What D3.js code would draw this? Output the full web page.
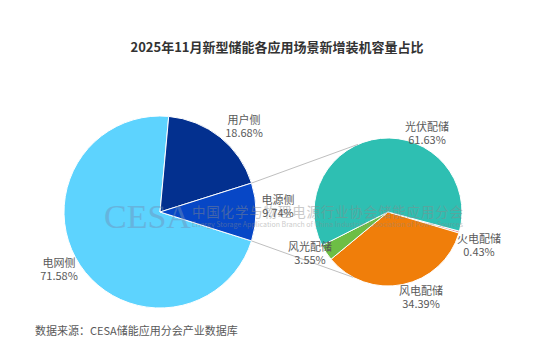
<!DOCTYPE html>
<html>
<head>
<meta charset="utf-8">
<script src="https://cdn.jsdelivr.net/npm/d3@7"></script>
<style>
  body { margin: 0; background: #fff; }
  text { font-family: "Noto Sans CJK SC", "Noto Sans", sans-serif; }
</style>
</head>
<body>
<div id="graphic"></div>
<script>
// main pie
var mainNames = ["电网侧", "用户侧", "电源侧"];
var mainValues = [71.58, 18.68, 9.74];
var mainColors = ["#5dd3fe", "#03308f", "#0747c6"];

// breakdown of 电源侧
var subNames = ["火电配储", "风电配储", "风光配储", "光伏配储"];
var subValues = [0.43, 34.39, 3.55, 61.63];
var subColors = ["#e8828b", "#f07e0a", "#6dbe45", "#2ebfb2"];

var width = 554, height = 359;
var deg = Math.PI / 180;

var svg = d3.select("#graphic").append("svg")
    .attr("width", width)
    .attr("height", height);

svg.append("text")
    .attr("x", 277).attr("y", 52)
    .attr("text-anchor", "middle")
    .attr("font-size", 13)
    .attr("font-weight", "bold")
    .attr("fill", "#333")
    .text("2025年11月新型储能各应用场景新增装机容量占比");

// left pie, 电源侧 slice centred on the right (90deg)
var c1 = { x: 160, y: 212, r: 96 };
var otherSpan = mainValues[2] / d3.sum(mainValues) * 360;
var start1 = 90 + otherSpan / 2;
var pie1 = d3.pie().sort(null)
    .startAngle(start1 * deg)
    .endAngle((start1 + 360) * deg);
var arc1 = d3.arc().innerRadius(0).outerRadius(c1.r);

var g1 = svg.append("g").attr("transform", "translate(" + c1.x + "," + c1.y + ")");
g1.selectAll("path")
    .data(pie1(mainValues))
    .enter().append("path")
    .attr("d", arc1)
    .attr("fill", function (d, i) { return mainColors[i]; })
    .attr("stroke", "#fff")
    .attr("stroke-width", 1);

// right pie
var c2 = { x: 388, y: 212, r: 74 };
var start2 = 105;
var pie2 = d3.pie().sort(null)
    .startAngle(start2 * deg)
    .endAngle((start2 + 360) * deg);
var arc2 = d3.arc().innerRadius(0).outerRadius(c2.r);

var g2 = svg.append("g").attr("transform", "translate(" + c2.x + "," + c2.y + ")");
g2.selectAll("path")
    .data(pie2(subValues))
    .enter().append("path")
    .attr("d", arc2)
    .attr("fill", function (d, i) { return subColors[i]; })
    .attr("stroke", "#fff")
    .attr("stroke-width", 1);

// connector lines
function pt(c, a, r) {
    return [c.x + Math.sin(a * deg) * r, c.y - Math.cos(a * deg) * r];
}
var lines = [
    [pt(c1, 90 - otherSpan / 2, c1.r), pt(c2, 336, c2.r)],
    [pt(c1, 90 + otherSpan / 2, c1.r), pt(c2, 208, c2.r)]
];
svg.selectAll(".conn")
    .data(lines)
    .enter().append("line")
    .attr("class", "conn")
    .attr("x1", function (d) { return d[0][0]; })
    .attr("y1", function (d) { return d[0][1]; })
    .attr("x2", function (d) { return d[1][0]; })
    .attr("y2", function (d) { return d[1][1]; })
    .attr("stroke", "#bfbfbf")
    .attr("stroke-width", 1);

// watermark
var wm = svg.append("g").attr("opacity", 0.45);
wm.append("text")
    .attr("x", 104).attr("y", 228)
    .attr("font-size", 34)
    .attr("fill", "#6f8fb8")
    .style("font-family", "'Liberation Serif', serif")
    .text("CESA");
wm.append("text")
    .attr("x", 192).attr("y", 217)
    .attr("font-size", 13.5)
    .attr("fill", "#8a8a8a")
    .attr("textLength", 271)
    .text("中国化学与物理电源行业协会储能应用分会");
wm.append("text")
    .attr("x", 192).attr("y", 227)
    .attr("font-size", 7)
    .attr("fill", "#8a8a8a")
    .attr("textLength", 271)
    .text("Energy Storage Application Branch of China Industrial Association of Power Sources");

// slice labels
var labelNames = mainNames.concat(subNames);
var labelValues = mainValues.concat(subValues);
var labelPos = [[59, 263], [244, 120], [278, 200], [479, 239], [421, 291], [310, 247], [427, 127]];

var lab = svg.selectAll(".lab")
    .data(labelNames)
    .enter().append("text")
    .attr("class", "lab")
    .attr("text-anchor", "middle")
    .attr("font-size", 11)
    .attr("fill", "#595959");
lab.append("tspan")
    .attr("x", function (d, i) { return labelPos[i][0]; })
    .attr("y", function (d, i) { return labelPos[i][1] + 4; })
    .text(function (d) { return d; });
lab.append("tspan")
    .attr("x", function (d, i) { return labelPos[i][0]; })
    .attr("y", function (d, i) { return labelPos[i][1] + 17; })
    .text(function (d, i) { return labelValues[i].toFixed(2) + "%"; });

svg.append("text")
    .attr("x", 35).attr("y", 335)
    .attr("font-size", 11)
    .attr("fill", "#595959")
    .text("数据来源：CESA储能应用分会产业数据库");
</script>
</body>
</html>
